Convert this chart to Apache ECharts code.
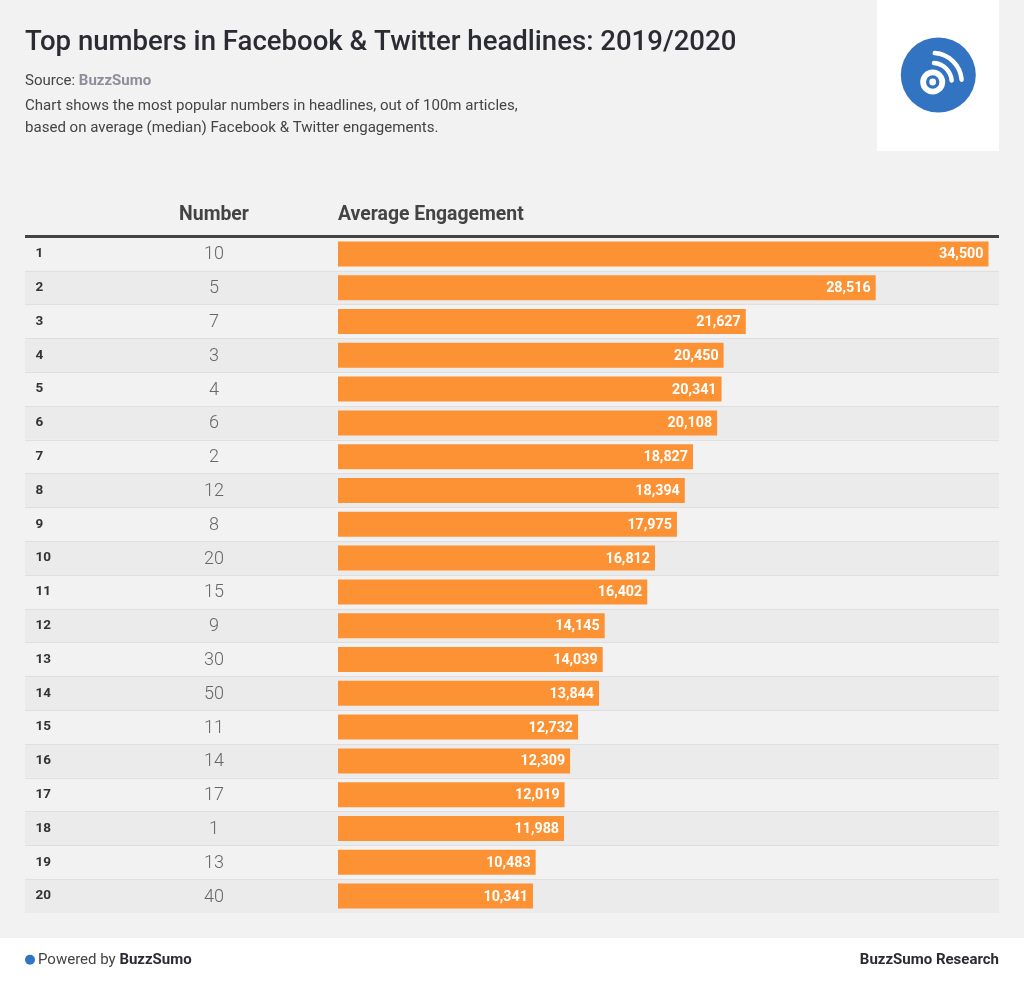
<!DOCTYPE html>
<html>
<head>
<meta charset="utf-8">
<style>html,body{margin:0;padding:0;background:#f2f2f2}#c{width:1024px;height:981px}</style>
<script src="https://cdn.jsdelivr.net/npm/echarts@6/dist/echarts.min.js"></script>
</head>
<body>
<div id="c"></div>
<script>
const ranks = ['1','2','3','4','5','6','7','8','9','10','11','12','13','14','15','16','17','18','19','20'];
const numbers = ['10','5','7','3','4','6','2','12','8','20','15','9','30','50','11','14','17','1','13','40'];
const engagement = [34500,28516,21627,20450,20341,20108,18827,18394,17975,16812,16402,14145,14039,13844,12732,12309,12019,11988,10483,10341];
const titleText = 'Top numbers in Facebook & Twitter headlines: 2019/2020';
const descLines = ['Chart shows the most popular numbers in headlines, out of 100m articles,','based on average (median) Facebook & Twitter engagements.'];

const FONT = 'Roboto, sans-serif';
const chart = echarts.init(document.getElementById('c'), null, {renderer:'canvas', width:1024, height:981});
const txt = (x,y,text,size,weight,color,align) => ({type:'text',x,y,z:10,style:{text,fontFamily:FONT,fontSize:size,fontWeight:weight,fill:color,align:align||'left',verticalAlign:'middle'}});

chart.setOption({
  animation:false,
  backgroundColor:'#f2f2f2',
  grid:[
    {left:25,top:237,width:974,height:676},
    {left:338,top:237,width:650.5,height:676},
    {left:338,top:238,width:650.5,height:676}
  ],
  xAxis:[
    {gridIndex:0,type:'value',min:0,max:1,position:'top',z:3,offset:1,
     axisLine:{show:true,lineStyle:{color:'#444444',width:3,cap:'butt'}},axisTick:{show:false},axisLabel:{show:false},splitLine:{show:false}},
    {gridIndex:1,type:'value',min:0,max:34500,show:false},
    {gridIndex:2,type:'value',min:0,max:34500,show:false}
  ],
  yAxis:[
    {gridIndex:0,type:'category',inverse:true,data:ranks,z:3,
     axisLine:{show:false},axisTick:{show:false},
     splitLine:{show:true,interval:0,showMaxLine:false,lineStyle:{color:'#dfdfdf',width:1}},
     axisLabel:{inside:true,margin:10.5,interval:0,align:'left',color:'#333333',fontFamily:FONT,fontWeight:700,fontSize:13.5,padding:[0,0,3,0]}},
    {gridIndex:1,type:'category',inverse:true,data:ranks,show:false},
    {gridIndex:2,type:'category',inverse:true,data:numbers,z:3,
     axisLine:{show:false},axisTick:{show:false},splitLine:{show:false},
     axisLabel:{margin:124,interval:0,align:'center',color:'#666666',fontFamily:FONT,fontWeight:300,fontSize:18}}
  ],
  series:[
    {type:'bar',xAxisIndex:0,yAxisIndex:0,silent:true,barWidth:'100%',z:1,
     data:ranks.map((r,i)=>({value:1,itemStyle:{color:i%2?'#ebebeb':'#f2f2f2'}}))},
    {type:'bar',xAxisIndex:1,yAxisIndex:1,barWidth:25,z:5,
     itemStyle:{color:'#fc9233'},
     data:engagement,
     label:{show:true,position:'insideRight',distance:5,offset:[0,1],color:'#ffffff',fontFamily:FONT,fontWeight:700,fontSize:14.3,
       formatter:p=>p.value.toLocaleString('en-US')}},
    {type:'bar',xAxisIndex:2,yAxisIndex:2,silent:true,data:[]}
  ],
  graphic:[
    {type:'rect',z:1,shape:{x:877,y:0,width:122,height:151},style:{fill:'#ffffff'}},
    {type:'rect',z:1,shape:{x:0,y:938,width:1024,height:43},style:{fill:'#ffffff'}},
    {type:'circle',z:2,shape:{cx:938.3,cy:75,r:37.5},style:{fill:'#3273c2'}},
    {type:'circle',z:3,shape:{cx:932.7,cy:82,r:9.6},style:{fill:'none',stroke:'#ffffff',lineWidth:5.8}},
    {type:'circle',z:3,shape:{cx:932.7,cy:82,r:3.4},style:{fill:'#ffffff'}},
    {type:'arc',z:3,shape:{cx:932.7,cy:82,r:19,startAngle:-1.5,endAngle:-0.08,clockwise:true},style:{fill:'none',stroke:'#ffffff',lineWidth:4.5,lineCap:'round'}},
    {type:'arc',z:3,shape:{cx:932.7,cy:82,r:29,startAngle:-1.5,endAngle:-0.08,clockwise:true},style:{fill:'none',stroke:'#ffffff',lineWidth:4.5,lineCap:'round'}},
    {type:'circle',z:3,shape:{cx:30,cy:959.7,r:5},style:{fill:'#3273c2'}},
    txt(25,43,titleText,27.57,500,'#2b2b33'),
    {type:'text',x:25,y:81.5,z:10,style:{
      text:'{a|Source: }{b|BuzzSumo}',verticalAlign:'middle',
      rich:{a:{fontFamily:FONT,fontSize:15,fill:'#444444',fontWeight:400},b:{fontFamily:FONT,fontSize:15,fill:'#8f8d9a',fontWeight:700}}}},
    txt(25,106.5,descLines[0],15.05,400,'#444444'),
    txt(25,128.5,descLines[1],15.05,400,'#444444'),
    txt(214,215,'Number',19.4,700,'#444444','center'),
    txt(338,215,'Average Engagement',19.4,700,'#444444'),
    {type:'text',x:38,y:960,z:10,style:{
      text:'{a|Powered by }{b|BuzzSumo}',verticalAlign:'middle',
      rich:{a:{fontFamily:FONT,fontSize:15,fill:'#444444',fontWeight:400},b:{fontFamily:FONT,fontSize:15,fill:'#2b2b33',fontWeight:700}}}},
    txt(999,960,'BuzzSumo Research',15,700,'#2b2b33','right')
  ]
});
</script>
</body>
</html>
